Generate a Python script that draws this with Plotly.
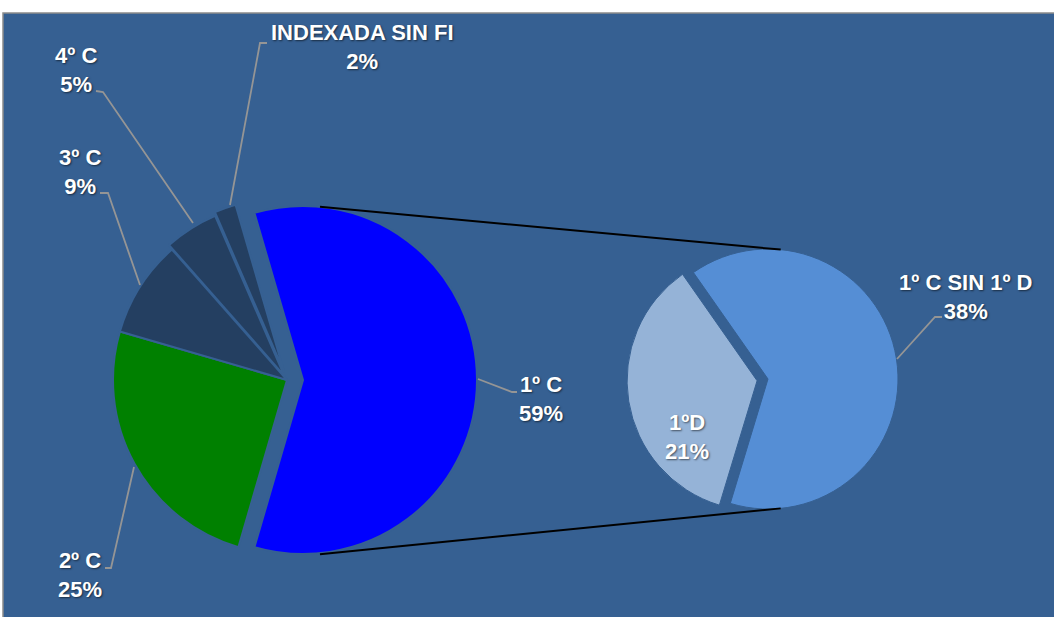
import math
import plotly.graph_objects as go

# ---- data ----
main_labels = ["1º C", "2º C", "3º C", "4º C", "INDEXADA SIN FI"]
main_values = [59, 25, 9, 5, 2]
main_colors = ["#0000FF", "#008000", "#243F61", "#243F61", "#243F61"]
main_pull = [0.092, 0.0, 0.0, 0.03, 0.05]

sub_labels = ["1º C SIN 1º D", "1ºD"]
sub_values = [38, 21]
sub_colors = ["#558ED5", "#95B3D7"]
sub_pull = [0.0, 0.085]

W, H = 1054, 617
BG = "#366092"

def px(x):
    return x / W

def py(y):
    return 1 - y / H

# geometry (pixels)
c1x, c1y, r1 = 287, 380, 174
c2x, c2y, r2 = 768, 379, 130

def dom(cx, cy, r, maxpull):
    half = r * (1 + maxpull)
    return dict(x=[px(cx - half), px(cx + half)], y=[py(cy + half), py(cy - half)])

fig = go.Figure()
fig.add_trace(go.Pie(
    labels=main_labels, values=main_values, sort=False, direction="clockwise",
    rotation=-(main_values[0] / sum(main_values) * 180 - 90),
    pull=main_pull, textinfo="none", hoverinfo="label+percent",
    marker=dict(colors=main_colors, line=dict(color=BG, width=2)),
    domain=dom(c1x, c1y, r1, max(main_pull)), showlegend=False,
))
fig.add_trace(go.Pie(
    labels=sub_labels, values=sub_values, sort=False, direction="clockwise",
    rotation=-35,
    pull=sub_pull, textinfo="none", hoverinfo="label+percent",
    marker=dict(colors=sub_colors, line=dict(color=BG, width=1)),
    domain=dom(c2x, c2y, r2, max(sub_pull)), showlegend=False,
))

shapes = []
# panel background
shapes.append(dict(type="rect", xref="paper", yref="paper", layer="below",
                   x0=px(3), x1=px(W + 2), y0=py(H + 2), y1=py(13),
                   fillcolor=BG, line=dict(color="#8C8C8C", width=1.5)))

# connector lines between the pies
bx = c1x + main_pull[0] * r1
ang = math.radians(5.6)
for s in (-1, 1):
    x0 = bx + r1 * math.sin(ang)
    y0 = c1y + s * r1 * math.cos(ang) + (1 if s > 0 else 0)
    x1 = c2x + r2 * math.sin(ang) * 1.0
    y1 = c2y + s * r2 * math.cos(ang)
    shapes.append(dict(type="line", xref="paper", yref="paper",
                       x0=px(x0), y0=py(y0), x1=px(x1), y1=py(y1),
                       line=dict(color="black", width=2)))

# leader lines (pixel polylines)
leaders = [
    [(230, 205), (260, 43), (267, 43)],
    [(96, 91), (103, 92), (193, 223)],
    [(100, 193), (108, 193), (140, 285)],
    [(105, 568), (111, 568), (134, 467)],
    [(478, 379), (512, 392), (517, 392)],
    [(897, 359), (935, 317), (942, 317)],
]
for pts in leaders:
    path = "M " + " L ".join(f"{px(x):.5f},{py(y):.5f}" for x, y in pts)
    shapes.append(dict(type="path", xref="paper", yref="paper", path=path,
                       line=dict(color="#959595", width=1.8)))

# labels
label_pos = {
    "1º C": (541, 399),
    "2º C": (80, 575),
    "3º C": (80, 172),
    "4º C": (76, 70),
    "INDEXADA SIN FI": (362, 47),
    "1º C SIN 1º D": (965, 297),
    "1ºD": (687, 437),
}
annotations = []
tot_main = sum(main_values)
items = list(zip(main_labels, main_values)) + list(zip(sub_labels, sub_values))
for lab, val in items:
    x, y = label_pos[lab]
    pct = round(val / tot_main * 100)
    annotations.append(dict(
        x=px(x), y=py(y), xref="paper", yref="paper", showarrow=False,
        text=f"{lab}<br>{pct}%", align="center", xanchor="center", yanchor="middle",
        font=dict(family="Liberation Sans, Arial, sans-serif", size=22, color="white",
                  weight="bold", shadow="1px 1px 2px rgba(0,0,0,0.55)"),
    ))

fig.update_layout(
    width=W, height=H, autosize=False,
    margin=dict(l=0, r=0, t=0, b=0),
    paper_bgcolor="white", plot_bgcolor="white",
    shapes=shapes, annotations=annotations,
)
fig.write_html(
    "out.html",
    config={"displayModeBar": False},
    post_script="document.body.style.margin='0';document.body.style.overflow='hidden';",
)
